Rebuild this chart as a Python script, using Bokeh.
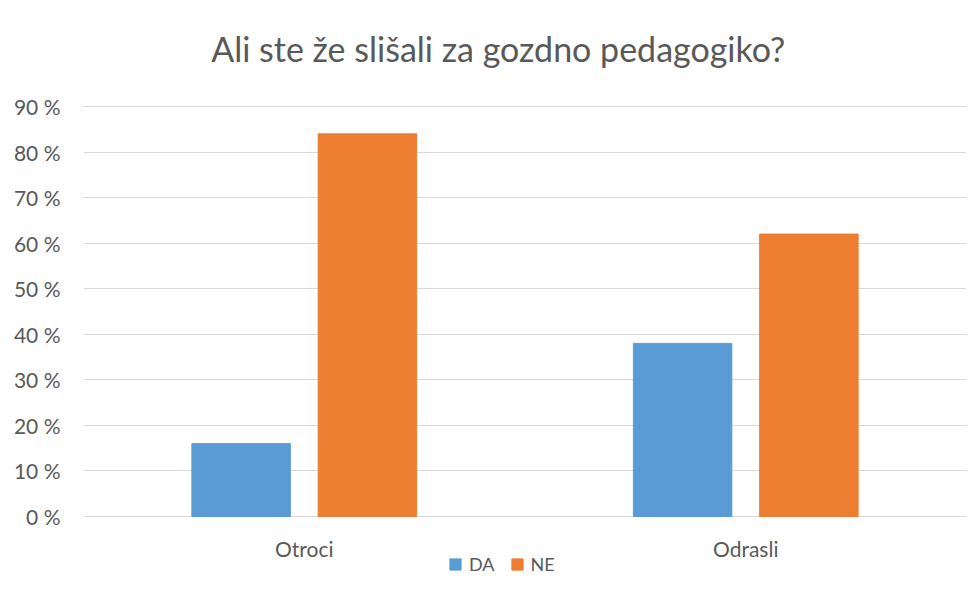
from bokeh.plotting import figure
from bokeh.models import (ColumnDataSource, FactorRange, Legend, LegendItem, PrintfTickFormatter,
                          FixedTicker, Range1d)
from bokeh.core.properties import value
from bokeh.transform import dodge
from bokeh.embed import file_html
from bokeh.resources import INLINE

categories = ["Otroci", "Odrasli"]
da_values = [16, 38]
ne_values = [84, 62]
series_names = ["DA", "NE"]
y_ticks = [0, 10, 20, 30, 40, 50, 60, 70, 80, 90]
title_text = "Ali ste že slišali za gozdno pedagogiko?"

BLUE = "#5B9BD5"
ORANGE = "#ED7D31"
TEXT = "#595959"
FONT = "Lato"

# layout constants (value-space positions for title / category labels)
Y_BOTTOM, Y_TOP = -17.34, 113.27
TITLE_Y = 102.7
CAT_LABEL_Y = -7.0

source = ColumnDataSource(dict(cat=categories, da=da_values, ne=ne_values))
title_src = ColumnDataSource(dict(x=[categories[0]], y=[TITLE_Y], t=[title_text]))

p = figure(x_range=FactorRange(*categories, range_padding=0), y_range=Range1d(Y_BOTTOM, Y_TOP),
           width=967, height=595, output_backend="svg", toolbar_location=None,
           x_axis_location=None, min_border_left=83, min_border_right=1,
           min_border_top=0, min_border_bottom=0)

r1 = p.vbar(x=dodge("cat", -0.143, range=p.x_range), top="da", width=0.223, source=source,
            fill_color=BLUE, line_color=BLUE)
r2 = p.vbar(x=dodge("cat", 0.143, range=p.x_range), top="ne", width=0.223, source=source,
            fill_color=ORANGE, line_color=ORANGE)

# category labels (x axis)
p.text(x="cat", y=CAT_LABEL_Y, text="cat", source=source, text_align="center",
       text_baseline="middle", text_font=value(FONT), text_font_size="21px",
       text_color=TEXT)

# chart title
p.text(x="x", y="y", text="t", source=title_src, x_offset=194, text_align="center",
       text_baseline="middle", text_font=value(FONT), text_font_size="34px",
       text_color=TEXT)

p.outline_line_color = None
p.xgrid.grid_line_color = None
p.ygrid.grid_line_color = "#d9d9d9"
p.ygrid.grid_line_width = 1

p.yaxis.ticker = FixedTicker(ticks=y_ticks)
p.yaxis.formatter = PrintfTickFormatter(format="%d %%")
ax = p.yaxis[0]
ax.axis_line_color = None
ax.major_tick_line_color = None
ax.minor_tick_line_color = None
ax.major_label_text_font = FONT
ax.major_label_text_font_size = "21px"
ax.major_label_text_color = TEXT
ax.major_label_standoff = 17

legend = Legend(items=[LegendItem(label=series_names[0], renderers=[r1]),
                       LegendItem(label=series_names[1], renderers=[r2])],
                orientation="horizontal", location=(365, 20),
                border_line_color=None, background_fill_alpha=0,
                label_text_font=FONT, label_text_font_size="18px", label_text_color=TEXT,
                glyph_width=14, glyph_height=14, label_height=14,
                spacing=15, padding=0, margin=0, label_standoff=7)
p.add_layout(legend, "center")

open("out.html", "w").write(file_html(p, INLINE))
